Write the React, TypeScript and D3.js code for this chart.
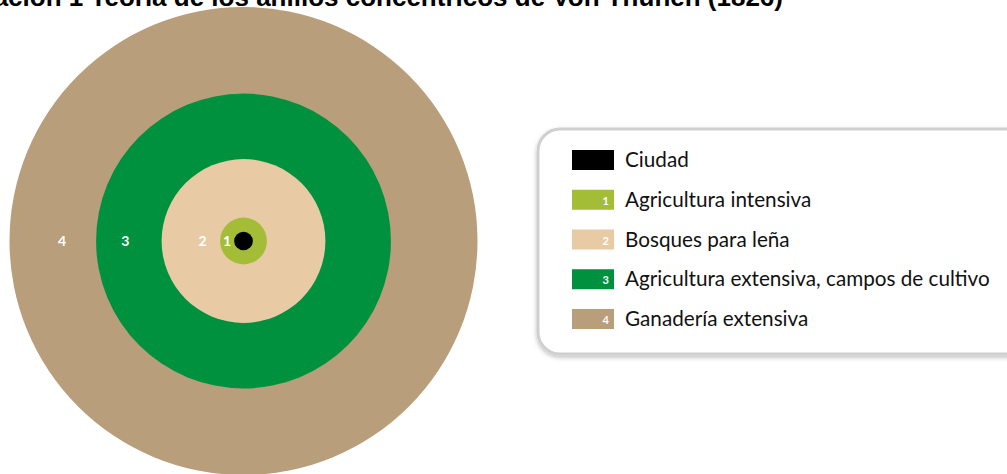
import React from "react";
import * as d3 from "d3";

// Zones from the city outward
const zoneNames = [
  "Ciudad",
  "Agricultura intensiva",
  "Bosques para leña",
  "Agricultura extensiva, campos de cultivo",
  "Ganadería extensiva",
];
const zoneNumbers = ["", "1", "2", "3", "4"];
// outer edge of each ring, as share of the total radius
const zoneOuter = [0.04, 0.1, 0.35, 0.63, 1.0];
// where each ring's number sits, as share of the total radius
const zoneLabelAt = [0, 0.07, 0.175, 0.505, 0.775];
const zoneColors = ["#000000", "#a3bd36", "#e8cba4", "#00913f", "#b89e7b"];

const titleText = "Ilustración 1 Teoría de los anillos concéntricos de Von Thünen (1826)";

const width = 1007;
const height = 474;

const App = () => {
  const cx = 243.5;
  const cy = 241;
  const r = d3.scaleLinear().domain([0, 1]).range([0, 234]);

  const rings = zoneOuter.map((o, i) => ({
    name: zoneNames[i],
    num: zoneNumbers[i],
    color: zoneColors[i],
    labelAt: zoneLabelAt[i],
    outer: o,
  }));

  // legend layout
  const legendY = d3.scalePoint().domain(zoneNames).range([160, 319]);

  return (
    <svg
      width={width}
      height={height}
      style={{ position: "absolute", left: 0, top: 0, background: "#fff" }}
    >
      <defs>
        <filter id="shadow" x="-5%" y="-5%" width="110%" height="115%">
          <feDropShadow dx="0" dy="2" stdDeviation="2" floodColor="#000" floodOpacity="0.25" />
        </filter>
      </defs>
      <text
        x={783}
        y={5.5}
        textAnchor="end"
        fontFamily="'Liberation Sans', Arial, sans-serif"
        fontWeight="bold"
        fontSize={26}
        fill="#000"
      >
        {titleText}
      </text>

      {/* rings, largest first */}
      <g transform={`translate(${cx},${cy})`}>
        {rings
          .slice()
          .reverse()
          .map((d) => (
            <circle key={d.name} r={r(d.outer)} fill={d.color} />
          ))}
        {rings
          .filter((d) => d.num)
          .map((d) => (
            <text
              key={d.num}
              x={-r(d.labelAt)}
              y={5}
              textAnchor="middle"
              fontFamily="Lato, sans-serif"
              fontWeight="bold"
              fontSize={14}
              fill="#fff"
            >
              {d.num}
            </text>
          ))}
      </g>

      {/* legend */}
      <rect
        x={538}
        y={129}
        width={500}
        height={225}
        rx={22}
        fill="#fff"
        stroke="#cfcfcf"
        strokeWidth={3}
        filter="url(#shadow)"
      />
      {rings.map((d) => {
        const y = legendY(d.name) as number;
        return (
          <g key={d.name} transform={`translate(572,${y})`}>
            <rect x={0} y={-10} width={42} height={20} fill={d.color} />
            {d.num && (
              <text
                x={37}
                y={5}
                textAnchor="end"
                fontFamily="Lato, sans-serif"
                fontWeight="bold"
                fontSize={11}
                fill="#fff"
              >
                {d.num}
              </text>
            )}
            <text
              x={53}
              y={7}
              fontFamily="Lato, sans-serif"
              fontSize={20.7}
              fill="#111"
            >
              {d.name}
            </text>
          </g>
        );
      })}
    </svg>
  );
};

export default App;
